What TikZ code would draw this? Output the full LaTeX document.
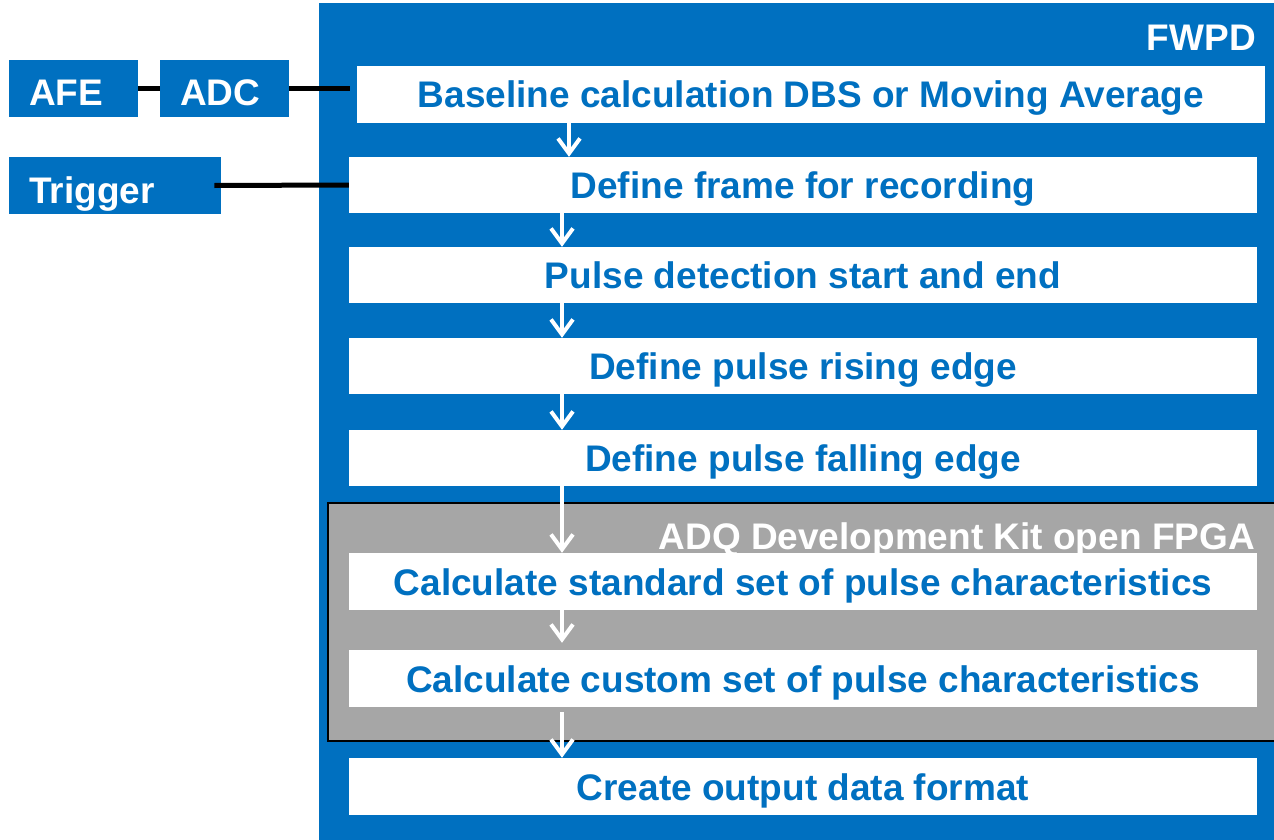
\documentclass[tikz,border=0pt]{standalone}
\usepackage{fontspec}
\setmainfont{Liberation Sans}
\usetikzlibrary{arrows.meta}
\definecolor{fwblue}{RGB}{0,112,192}
\definecolor{adqgray}{RGB}{166,166,166}
\begin{document}
\begin{tikzpicture}[x=1pt,y=-1pt,
  bigfont/.style={font=\fontsize{37pt}{40pt}\selectfont\bfseries},
  stepbox/.style={bigfont, fill=white, minimum width=908pt, minimum height=57pt,
    inner sep=0pt, text=fwblue, text height=27pt, text depth=0pt},
  inbox/.style={bigfont, fill=fwblue, text=white, minimum height=57pt, inner ysep=0pt,
    inner xsep=20pt, align=left, text height=35pt, text depth=0pt},
  title/.style={bigfont, inner sep=0pt, text height=27pt, text depth=0pt, anchor=east},
  link/.style={draw=black, line width=5pt},
  flow/.style={draw=white, line width=4pt, -{Straight Barb[length=15pt,width=22pt]}}
]
\useasboundingbox (0,0) rectangle (1274,840);
% FWPD frame
\node[fill=fwblue, inner sep=0pt, minimum width=955pt, minimum height=837pt, anchor=north west] (fwpd) at (319,3) {};
\node[title, text=white] (fwpdlabel) at (1256,37) {FWPD};
% ADQ frame
\node[fill=adqgray, draw=black, line width=1.5pt, inner sep=0pt, minimum width=960pt, minimum height=238pt, anchor=north west] (adq) at (327,502) {};
\node[title, text=white] (adqlabel) at (1255,536) {ADQ Development Kit open FPGA};
% inputs
\node[inbox, text width=89pt, anchor=west] (AFE) at (9,88.5) {AFE};
\node[inbox, text width=89pt, anchor=west] (ADC) at (160,88.5) {ADC};
\node[inbox, text width=172pt, anchor=west] (Trigger) at (9,185.5) {Trigger};
% steps
\node[stepbox] (Baseline) at (811,94.5) {Baseline calculation DBS or Moving Average};
\node[stepbox, minimum height=56pt] (Frame) at (803,185) {Define frame for recording};
\node[stepbox, minimum height=56pt] (Pulse) at (803,275) {Pulse detection start and end};
\node[stepbox, minimum height=56pt] (Rising) at (803,366) {Define pulse rising edge};
\node[stepbox, minimum height=56pt] (Falling) at (803,458) {Define pulse falling edge};
\node[stepbox] (Standard) at (803,581.5) {Calculate standard set of pulse characteristics};
\node[stepbox] (Custom) at (803,678.5) {Calculate custom set of pulse characteristics};
\node[stepbox] (Output) at (803,786.5) {Create output data format};
% links
\coordinate (adcend) at (350,88.5);
\draw[link] (AFE.east) -- (ADC.west);
\draw[link] (ADC.east) -- (adcend);
\draw[link] ([xshift=-7pt]Trigger.east) -- (Frame.west);
% arrows
\coordinate (a1) at ([xshift=-242pt]Baseline.south);
\draw[flow] (a1) -- (a1 |- Frame.north);
\draw[flow] ([xshift=-241pt]Frame.south) -- ([xshift=-241pt]Pulse.north);
\draw[flow] ([xshift=-241pt]Pulse.south) -- ([xshift=-241pt]Rising.north);
\draw[flow] ([xshift=-241pt]Rising.south) -- ([xshift=-241pt]Falling.north);
\draw[flow] ([xshift=-241pt]Falling.south) -- ([xshift=-241pt]Standard.north);
\draw[flow, shorten >=7pt] ([xshift=-241pt]Standard.south) -- ([xshift=-241pt]Custom.north);
\draw[flow, shorten <=5pt] ([xshift=-241pt]Custom.south) -- ([xshift=-241pt]Output.north);
\end{tikzpicture}
\end{document}
